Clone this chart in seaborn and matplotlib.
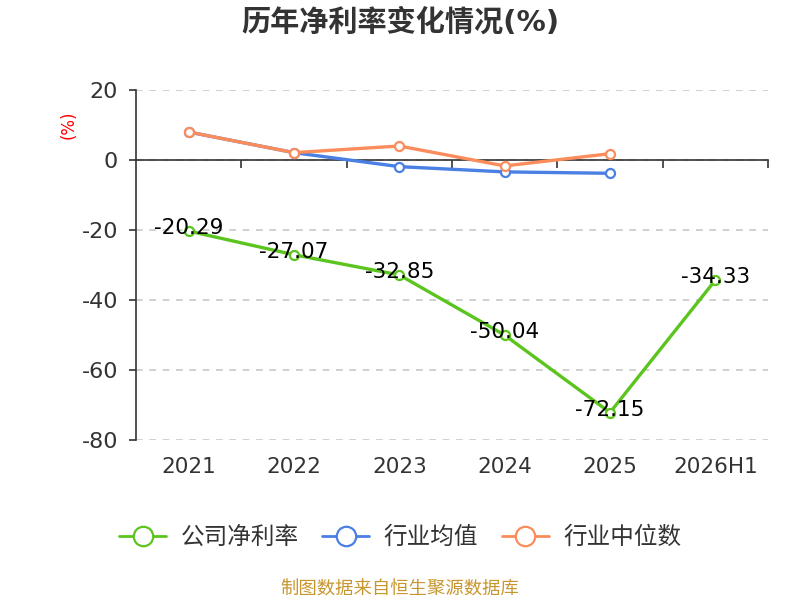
import numpy as np
import pandas as pd
import matplotlib
matplotlib.use("Agg")
import matplotlib.pyplot as plt
import seaborn as sns
from matplotlib.lines import Line2D

# ---------------------------------------------------------------------------
# DONNEES
# ---------------------------------------------------------------------------
years = ["2021", "2022", "2023", "2024", "2025", "2026H1"]
company = [-20.29, -27.07, -32.85, -50.04, -72.15, -34.33]
industry_mean = [8.0, 2.1, -1.9, -3.4, -3.8, np.nan]
industry_median = [8.0, 2.1, 4.0, -1.7, 1.8, np.nan]
series_names = ["公司净利率", "行业均值", "行业中位数"]
y_ticks = [20, 0, -20, -40, -60, -80]

GREEN = "#5cc41e"
BLUE = "#4a7fe4"
ORANGE = "#fb8c5c"

sns.set_theme(style="white")
plt.rcParams["font.family"] = ["DejaVu Sans", "Noto Sans CJK SC"]
plt.rcParams["axes.unicode_minus"] = False

df = pd.DataFrame({
    "x": np.arange(len(years)),
    series_names[0]: company,
    series_names[1]: industry_mean,
    series_names[2]: industry_median,
})

fig = plt.figure(figsize=(8, 6), dpi=100)
ax = fig.add_axes([0.17, 0.2667, 0.79, 0.5833])

mk = dict(marker="o", markersize=6.5, markerfacecolor="white", markeredgewidth=1.6, linewidth=2.4)
sns.lineplot(data=df, x="x", y=series_names[1], ax=ax, color=BLUE, markeredgecolor=BLUE, zorder=3, **mk)
sns.lineplot(data=df, x="x", y=series_names[2], ax=ax, color=ORANGE, markeredgecolor=ORANGE, zorder=4, **mk)
sns.lineplot(data=df, x="x", y=series_names[0], ax=ax, color=GREEN, markeredgecolor=GREEN, zorder=5, **mk)

for xi, v in zip(df["x"], company):
    ax.annotate(f"{v:.2f}", (xi, v), xytext=(0, 2), textcoords="offset points",
                ha="center", va="center", fontsize=15.5, color="black", zorder=6)

ax.set_xlim(-0.5, len(years) - 0.5)
ax.set_ylim(-80, 20)
ax.set_xlabel("")
ax.set_ylabel("(%)", color="red", fontsize=12)
ax.yaxis.set_label_coords(-0.093, 0.90)

# axes / grille
for s in ["top", "right"]:
    ax.spines[s].set_visible(False)
ax.spines["left"].set_color("#333333")
ax.spines["left"].set_linewidth(1.2)
ax.spines["bottom"].set_position(("data", 0))
ax.spines["bottom"].set_color("#333333")
ax.spines["bottom"].set_linewidth(1.2)
ax.set_yticks(y_ticks)
ax.tick_params(axis="y", length=5, width=1.2, color="#333333", labelsize=16,
               labelcolor="#333333", left=True, pad=8)
ax.yaxis.grid(True, linestyle=(0, (4, 4)), color="#c8c8c8", linewidth=1.2)
ax.set_axisbelow(True)

ax.set_xticks(np.arange(len(years)) + 0.5)
ax.set_xticklabels([])
ax.tick_params(axis="x", length=6, width=1.2, color="#333333", bottom=True, direction="out")

sec = ax.secondary_xaxis(location=0)
sec.set_xticks(np.arange(len(years)))
sec.set_xticklabels(years)
sec.tick_params(length=0, labelsize=15.5, labelcolor="#333333", pad=12)
sec.spines["bottom"].set_visible(False)

fig.text(0.5, 0.962, "历年净利率变化情况(%)", ha="center", va="center",
         fontsize=21, fontweight="bold", color="#333333")

handles = [Line2D([0], [0], color=c, linewidth=2, marker="o", markersize=14,
                  markerfacecolor="white", markeredgewidth=1.6, markeredgecolor=c)
           for c in [GREEN, BLUE, ORANGE]]
fig.legend(handles, series_names, loc="center", bbox_to_anchor=(0.5, 0.105), ncol=3,
           frameon=False, fontsize=17, handlelength=2.0, columnspacing=1.0,
           handletextpad=0.6, labelcolor="#333333")

fig.text(0.5, 0.018, "制图数据来自恒生聚源数据库", ha="center", va="center",
         fontsize=13.2, color="#c8962e")

fig.savefig("out.png", dpi=100)
plt.close(fig)
